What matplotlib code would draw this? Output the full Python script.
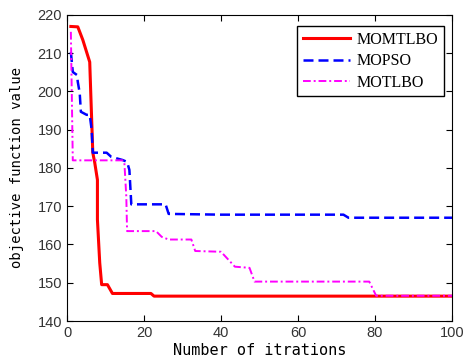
import matplotlib.pyplot as plt

# iteration / objective value pairs
momtlbo_x = [1, 2.8, 4.1, 5.9, 6.2, 6.7, 7.2, 7.9, 7.9, 8.5, 9.0, 10.5, 11.8, 21.8, 22.6, 100]
momtlbo_y = [217, 216.9, 213.5, 207.7, 198.6, 184, 181.4, 176.9, 166.5, 155.2, 149.5, 149.5, 147.2, 147.2, 146.5, 146.5]

mopso_x = [1, 1.5, 2.6, 2.8, 3.3, 3.6, 5.1, 5.9, 6.4, 6.7, 10.3, 11.5, 14.4, 15.6, 16.2, 16.7, 25.6, 26.4, 40, 71.8, 73.1, 100]
mopso_y = [210.3, 205.1, 204.3, 202.5, 199.6, 194.7, 193.9, 193.9, 190, 184, 184, 182.9, 182.1, 181.6, 179.5, 170.5, 170.5, 168, 167.8, 167.8, 167, 167]

motlbo_x = [1, 1.5, 14.4, 14.9, 15.4, 15.6, 23.1, 24.6, 26.4, 32.3, 33.3, 40, 43.6, 47.4, 48.7, 78.5, 80.3, 100]
motlbo_y = [215.6, 182, 182, 181.4, 172.5, 163.5, 163.5, 162, 161.3, 161.3, 158.3, 158.1, 154.2, 153.9, 150.3, 150.3, 146.6, 146.6]

mono = ["DejaVu Sans Mono"]

fig = plt.figure(figsize=(4.66, 3.63), dpi=100)
ax = fig.add_axes([0.1438, 0.1157, 0.8262, 0.843])

ax.plot(momtlbo_x, momtlbo_y, color="red", linestyle="-", linewidth=2.2, label="MOMTLBO")
ax.plot(mopso_x, mopso_y, color="blue", linestyle="--", linewidth=1.8, dashes=(4, 2), label="MOPSO")
ax.plot(motlbo_x, motlbo_y, color="magenta", linestyle="-.", linewidth=1.4,
        dashes=(4, 1.5, 1, 1.5), label="MOTLBO")

ax.set_xlim(0, 100)
ax.set_ylim(140, 220)
ax.set_xticks(range(0, 101, 20))
ax.set_yticks(range(140, 221, 10))
ax.tick_params(direction="in", top=True, right=True, length=4, labelsize=10.5)
for lab in ax.get_xticklabels() + ax.get_yticklabels():
    lab.set_fontfamily("Liberation Sans")
    lab.set_color("#333333")

ax.set_xlabel("Number of itrations", fontsize=11, family=mono, labelpad=2)
ax.set_ylabel("objective function value", fontsize=10, family=mono, labelpad=10)

leg = ax.legend(loc="upper right", bbox_to_anchor=(1.0, 0.99), fancybox=False,
                edgecolor="black", framealpha=1, handlelength=3.0,
                prop={"family": "Liberation Serif", "size": 11.5},
                borderpad=0.35, labelspacing=0.35, handletextpad=0.4)
leg.get_frame().set_linewidth(1.0)

fig.savefig("out.png", dpi=100)
